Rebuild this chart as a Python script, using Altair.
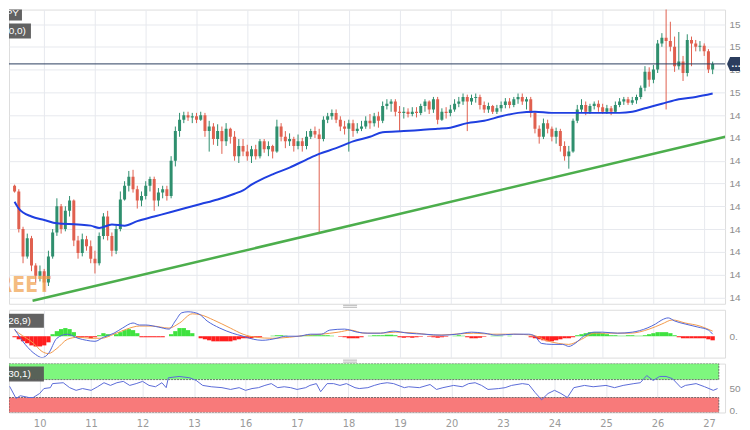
import altair as alt
import pandas as pd

# ---------------- axis labels ----------------
day_labels = ["10", "11", "12", "13", "16", "17", "18", "19", "20", "23", "24", "25", "26", "27"]
day_hours = [24, 48, 72, 96, 120, 144, 168, 192, 216, 240, 264, 288, 312, 336]
price_ticks = [148.2, 148.4, 148.6, 148.8, 149.0, 149.2, 149.4, 149.6, 149.8, 150.0, 150.2, 150.4, 150.6]

# ---------------- 2-hour candles (trading hours from Oct 9 00:00) ----------------
candle_hours = list(range(10, 341, 2))
opens = [
    149.18, 149.13, 148.80, 148.56, 148.72, 148.48, 148.39,
    148.43, 148.33, 148.56, 148.77, 149.00, 148.80, 148.96, 149.05, 148.70, 148.59, 148.71, 148.65,
    148.54, 148.50, 148.74, 148.91, 148.74, 148.61, 148.80, 149.06, 149.18, 149.26, 149.15, 149.05,
    149.09, 149.18, 149.24, 149.05, 149.12, 149.15, 149.09, 149.40, 149.66, 149.76, 149.80, 149.78,
    149.79, 149.76, 149.80, 149.66, 149.70, 149.59, 149.66, 149.57, 149.68, 149.61, 149.44, 149.53,
    149.48, 149.44, 149.50, 149.44, 149.57, 149.50, 149.53, 149.48, 149.70, 149.61, 149.57, 149.59,
    149.53, 149.57, 149.53, 149.61, 149.66, 149.63, 149.59, 149.76, 149.79, 149.82, 149.76, 149.70,
    149.68, 149.73, 149.66, 149.68, 149.70, 149.75, 149.73, 149.79, 149.75, 149.88, 149.90, 149.92,
    149.83, 149.82, 149.83, 149.81, 149.83, 149.82, 149.88, 149.92, 149.85, 149.94, 149.76, 149.83,
    149.82, 149.85, 149.90, 149.92, 149.96, 149.92, 149.95, 149.96, 149.89, 149.85, 149.88, 149.83,
    149.86, 149.89, 149.92, 149.89, 149.94, 149.96, 149.92, 149.94, 149.82, 149.68, 149.61, 149.73,
    149.68, 149.61, 149.66, 149.53, 149.44, 149.48, 149.75, 149.85, 149.89, 149.83, 149.88, 149.90,
    149.87, 149.83, 149.86, 149.83, 149.89, 149.92, 149.94, 149.91, 149.93, 149.96, 150.04, 150.18,
    150.11, 150.20, 150.43, 150.48, 150.45, 150.40, 150.23, 150.27, 150.17, 150.46, 150.43, 150.40,
    150.41, 150.36, 150.20,
]
highs = [
    149.19, 149.15, 148.82, 148.76, 148.74, 148.50, 148.48,
    148.45, 148.61, 148.80, 149.07, 149.02, 149.00, 149.09, 149.06, 148.74, 148.76, 148.74, 148.70,
    148.61, 148.77, 148.94, 148.96, 148.77, 148.83, 149.13, 149.22, 149.31, 149.32, 149.18, 149.13,
    149.22, 149.26, 149.26, 149.16, 149.18, 149.18, 149.44, 149.70, 149.82, 149.83, 149.83, 149.82,
    149.82, 149.83, 149.82, 149.75, 149.73, 149.72, 149.70, 149.73, 149.69, 149.66, 149.59, 149.59,
    149.54, 149.53, 149.54, 149.59, 149.59, 149.57, 149.54, 149.76, 149.73, 149.66, 149.64, 149.61,
    149.63, 149.60, 149.66, 149.68, 149.70, 149.68, 149.79, 149.82, 149.85, 149.85, 149.79, 149.75,
    149.76, 149.76, 149.73, 149.75, 149.79, 149.81, 149.82, 149.83, 149.92, 149.94, 149.94, 149.94,
    149.88, 149.87, 149.86, 149.87, 149.87, 149.90, 149.94, 149.93, 149.96, 149.96, 149.86, 149.87,
    149.89, 149.94, 149.96, 149.99, 149.98, 149.98, 149.99, 149.98, 149.92, 149.91, 149.89, 149.89,
    149.92, 149.95, 149.95, 149.96, 149.99, 149.99, 149.96, 149.96, 149.83, 149.71, 149.77, 149.76,
    149.70, 149.69, 149.68, 149.57, 149.53, 149.77, 149.89, 149.94, 149.92, 149.90, 149.92, 149.93,
    149.90, 149.89, 149.88, 149.92, 149.95, 149.96, 149.96, 149.96, 149.98, 150.06, 150.23, 150.22,
    150.24, 150.46, 150.52, 150.78, 150.62, 150.49, 150.53, 150.32, 150.51, 150.49, 150.46, 150.45,
    150.43, 150.38, 150.27,
]
lows = [
    149.12, 148.77, 148.50, 148.54, 148.43, 148.33, 148.34,
    148.26, 148.30, 148.54, 148.74, 148.76, 148.78, 148.91, 148.65, 148.54, 148.56, 148.61, 148.50,
    148.41, 148.48, 148.71, 148.70, 148.56, 148.58, 148.78, 149.05, 149.13, 149.12, 148.98, 149.00,
    149.06, 149.13, 148.96, 149.00, 149.07, 149.05, 149.07, 149.35, 149.61, 149.73, 149.75, 149.73,
    149.73, 149.75, 149.61, 149.48, 149.54, 149.53, 149.46, 149.53, 149.55, 149.40, 149.38, 149.44,
    149.40, 149.38, 149.41, 149.42, 149.47, 149.44, 149.42, 149.47, 149.57, 149.51, 149.53, 149.48,
    149.50, 149.48, 149.50, 149.59, 149.60, 148.77, 149.57, 149.73, 149.76, 149.73, 149.66, 149.63,
    149.48, 149.61, 149.64, 149.66, 149.68, 149.68, 149.70, 149.69, 149.73, 149.85, 149.83, 149.79,
    149.66, 149.77, 149.78, 149.79, 149.78, 149.80, 149.83, 149.81, 149.82, 149.72, 149.75, 149.77,
    149.79, 149.83, 149.87, 149.89, 149.66, 149.89, 149.91, 149.85, 149.82, 149.82, 149.81, 149.81,
    149.83, 149.86, 149.86, 149.87, 149.90, 149.89, 149.85, 149.78, 149.64, 149.55, 149.59, 149.64,
    149.57, 149.55, 149.48, 149.40, 149.33, 149.47, 149.73, 149.82, 149.80, 149.81, 149.85, 149.83,
    149.81, 149.81, 149.80, 149.82, 149.87, 149.89, 149.89, 149.89, 149.90, 149.94, 150.01, 150.05,
    150.08, 150.17, 150.40, 149.85, 150.36, 150.18, 150.20, 150.10, 150.14, 150.23, 150.36, 150.36,
    150.32, 150.17, 150.16,
]
closes = [
    149.13, 148.80, 148.56, 148.72, 148.48, 148.39, 148.43,
    148.33, 148.56, 148.77, 149.00, 148.80, 148.96, 149.05, 148.70, 148.59, 148.71, 148.65, 148.54,
    148.50, 148.74, 148.91, 148.74, 148.61, 148.80, 149.06, 149.18, 149.26, 149.15, 149.05, 149.09,
    149.18, 149.24, 149.05, 149.12, 149.15, 149.09, 149.40, 149.66, 149.76, 149.80, 149.78, 149.79,
    149.76, 149.80, 149.66, 149.70, 149.59, 149.66, 149.57, 149.68, 149.61, 149.44, 149.53, 149.48,
    149.44, 149.50, 149.44, 149.57, 149.50, 149.53, 149.48, 149.70, 149.61, 149.57, 149.59, 149.53,
    149.57, 149.53, 149.61, 149.66, 149.63, 149.59, 149.76, 149.79, 149.82, 149.76, 149.70, 149.68,
    149.73, 149.66, 149.68, 149.70, 149.75, 149.73, 149.79, 149.75, 149.88, 149.90, 149.92, 149.83,
    149.82, 149.83, 149.81, 149.83, 149.82, 149.88, 149.92, 149.85, 149.94, 149.76, 149.83, 149.82,
    149.85, 149.90, 149.92, 149.96, 149.92, 149.95, 149.96, 149.89, 149.85, 149.88, 149.83, 149.86,
    149.89, 149.92, 149.89, 149.94, 149.96, 149.92, 149.94, 149.82, 149.68, 149.61, 149.73, 149.68,
    149.61, 149.66, 149.53, 149.44, 149.48, 149.75, 149.85, 149.89, 149.83, 149.88, 149.90, 149.87,
    149.83, 149.86, 149.83, 149.89, 149.92, 149.94, 149.91, 149.93, 149.96, 150.04, 150.18, 150.11,
    150.20, 150.43, 150.48, 150.45, 150.40, 150.23, 150.27, 150.17, 150.46, 150.43, 150.40, 150.41,
    150.36, 150.20, 150.25,
]
current_price = 150.25

# 100-period moving average
ma_t = [10, 12, 18, 24, 30, 40, 46, 50, 56, 62, 68, 76, 84, 90, 98, 106, 114, 118, 122, 126, 132, 140, 148, 154,
        162, 170, 178, 184, 194, 202, 210, 216, 224, 232, 240, 248, 256, 264, 272, 280, 288, 296, 302, 308, 312,
        316, 324, 332, 340]
ma_v = [149.04, 148.98, 148.91, 148.88, 148.85, 148.84, 148.83, 148.81, 148.84, 148.83, 148.87, 148.91, 148.95,
        148.98, 149.02, 149.06, 149.11, 149.14, 149.19, 149.23, 149.28, 149.34, 149.41, 149.46, 149.51, 149.57,
        149.61, 149.65, 149.66, 149.67, 149.68, 149.69, 149.73, 149.75, 149.79, 149.82, 149.83, 149.82, 149.82,
        149.82, 149.82, 149.82, 149.83, 149.86, 149.88, 149.90, 149.94, 149.96, 149.99]

# ascending trend line
trend_t = [18.5, 346.0]
trend_v = [148.17, 149.61]

# ---------------- MACD(12,26,9) ----------------
macd_t = [10, 15, 20, 23, 26, 30, 35, 40, 44, 48, 52, 57, 61, 66, 69, 72, 78, 83, 86, 89, 92, 97, 101, 107, 113,
          118, 123, 127, 134, 138, 144, 150, 155, 159, 166, 172, 177, 183, 189, 196, 204, 212, 219, 226, 232, 238,
          246, 253, 256, 259, 264, 269, 272, 275, 279, 284, 288, 295, 302, 309, 313, 316, 319, 322, 327, 333, 338, 340]
macd_v = [0.07, -0.08, -0.18, -0.21, -0.17, -0.02, 0.02, -0.02, -0.04, -0.05, -0.01, 0.03, 0.08, 0.13, 0.11, 0.11,
          0.09, 0.07, 0.15, 0.23, 0.24, 0.22, 0.15, 0.08, 0.03, 0.0, -0.03, -0.04, -0.02, 0.0, 0.0, 0.02, 0.02, 0.06,
          0.07, 0.04, 0.03, 0.03, 0.05, 0.03, 0.02, 0.01, 0.02, 0.04, 0.03, 0.01, 0.02, 0.02, 0.0, -0.07, -0.08,
          -0.08, -0.10, -0.07, 0.0, 0.04, 0.04, 0.03, 0.04, 0.08, 0.12, 0.16, 0.18, 0.15, 0.12, 0.09, 0.06, 0.02]
sig_t = [10, 12, 19, 23, 26, 30, 35, 40, 46, 51, 57, 63, 69, 75, 83, 88, 94, 98, 104, 112, 118, 124, 132, 140, 148,
         155, 163, 169, 175, 183, 190, 200, 209, 218, 227, 236, 246, 255, 261, 267, 272, 278, 284, 292, 301, 310,
         316, 321, 327, 334, 340]
sig_v = [0.06, 0.03, -0.07, -0.15, -0.17, -0.12, -0.03, -0.01, -0.02, -0.02, 0.02, 0.07, 0.10, 0.10, 0.08, 0.13,
         0.22, 0.21, 0.16, 0.08, 0.02, -0.01, -0.02, -0.01, 0.01, 0.02, 0.04, 0.06, 0.03, 0.03, 0.04, 0.03, 0.01,
         0.02, 0.03, 0.02, 0.02, 0.01, -0.04, -0.07, -0.08, -0.03, 0.03, 0.03, 0.03, 0.07, 0.12, 0.16, 0.13, 0.10, 0.05]
hist_v = [
    -0.01, -0.03, -0.05, -0.07, -0.09, -0.10, -0.10,
    -0.09, -0.06, 0.02, 0.05, 0.07, 0.08, 0.07, 0.04, -0.01, -0.01, -0.01, -0.02,
    -0.01, 0.01, 0.03, 0.02, 0.0, 0.02, 0.04, 0.06, 0.07, 0.06, 0.03, -0.01,
    -0.01, -0.01, -0.01, -0.01, -0.01, 0.0, 0.02, 0.05, 0.08, 0.08, 0.06, 0.03,
    0.0, -0.02, -0.03, -0.04, -0.05, -0.05, -0.05, -0.05, -0.05, -0.04, -0.03, -0.02,
    -0.02, -0.02, -0.01, -0.01, 0.0, 0.0, 0.005, 0.01, 0.01, 0.005, 0.0, 0.0,
    0.0, 0.005, 0.01, 0.01, 0.01, 0.01, 0.01, 0.01, 0.005, 0.0, -0.005, -0.01,
    -0.02, -0.02, -0.02, -0.01, 0.0, 0.005, 0.01, 0.01, 0.01, 0.015, 0.015, 0.01,
    -0.01, -0.015, -0.01, -0.015, -0.01, -0.005, 0.0, -0.005, -0.01, -0.015, -0.01, -0.005,
    0.0, 0.005, 0.01, 0.005, -0.01, -0.02, -0.02, -0.015, -0.005, 0.0, 0.005, 0.005,
    0.005, 0.0, 0.005, 0.0, 0.0, 0.0, 0.0, -0.01, -0.02, -0.03, -0.04, -0.05,
    -0.05, -0.04, -0.03, -0.02, -0.02, -0.01, 0.01, 0.02, 0.03, 0.04, 0.04, 0.04,
    0.03, 0.02, 0.01, 0.01, 0.005, 0.005, 0.01, 0.01, 0.005, 0.005, 0.01, 0.02,
    0.03, 0.04, 0.04, 0.04, 0.03, 0.01, -0.01, -0.02, -0.02, -0.02, -0.02, -0.02,
    -0.02, -0.03, -0.04,
]

# ---------------- RSI(14,70,30,1) ----------------
rsi_t = [10, 13, 15, 19, 21, 24, 26, 29, 30, 35, 38, 41, 44, 48, 51, 54, 57, 60, 63, 66, 69, 72, 75, 78, 81, 83, 84,
         89, 94, 97, 100, 104, 109, 113, 117, 120, 123, 126, 129, 132, 135, 138, 141, 144, 148, 150, 153, 155, 158,
         161, 164, 167, 171, 173, 177, 180, 183, 186, 189, 194, 196, 201, 206, 209, 212, 217, 221, 224, 227, 230,
         233, 238, 241, 244, 249, 252, 255, 258, 261, 264, 267, 270, 273, 278, 282, 288, 292, 296, 301, 304, 307,
         310, 313, 316, 319, 323, 325, 330, 334, 338, 340]
rsi_v = [55, 28, 34, 30, 30, 39, 50, 52, 61, 63, 52, 46, 50, 46, 54, 63, 57, 63, 66, 57, 61, 66, 57, 54, 63, 52, 74,
         77, 74, 68, 57, 54, 52, 48, 52, 46, 50, 52, 57, 61, 52, 54, 52, 48, 52, 57, 61, 43, 61, 61, 57, 61, 52, 50,
         52, 57, 61, 63, 61, 52, 54, 52, 59, 48, 52, 57, 54, 61, 63, 57, 48, 50, 52, 57, 61, 59, 41, 25, 39, 46, 39,
         30, 52, 57, 54, 57, 52, 57, 61, 63, 79, 68, 77, 77, 72, 52, 57, 61, 54, 46, 50]
rsi_levels = [70, 30]
rsi_band_end = 340.6

# ---------------- styles ----------------
UP = "#2f8f6e"
DOWN = "#e0604f"
NAVY = "#2b3d5e"
GRID = "#e7e9ee"
PANEL_BG = "#f7f8fa"
LABEL = "#8d8d8d"
BOX = "#555555"
W = 718
X_DOMAIN = [9.72, 343.5]
NARROW = "Liberation Sans Narrow, DejaVu Sans Condensed, sans-serif"
label_expr = "[" + ",".join("'%s'" % d for d in day_labels) + "][round(datum.value/24)-1]"
cut_expr = "substring(format(datum.value, '.2f'), 0, 2)"


def xenc(field="t", show_labels=False):
    return alt.X(
        f"{field}:Q",
        scale=alt.Scale(domain=X_DOMAIN, nice=False, zero=False),
        axis=alt.Axis(values=day_hours, grid=True, gridColor=GRID, labels=show_labels, ticks=False,
                      domain=False, title=None, labelExpr=label_expr, labelColor="#9a9a9a",
                      labelFontSize=11, labelFont=NARROW, labelPadding=5),
    )


def yaxis(values, grid):
    return alt.Axis(values=values, orient="right", grid=grid, gridColor=GRID, ticks=False, domain=False,
                    labelColor=LABEL, labelFontSize=10, labelPadding=4, labelExpr=cut_expr, title=None)


one = pd.DataFrame({"k": [0]})


def label_box(text, x_right, y_top, y_bottom, text_right):
    box = alt.Chart(one).mark_rect(clip=True, color=BOX, opacity=0.92).encode(
        x=alt.value(-60), x2=alt.value(x_right), y=alt.value(y_top), y2=alt.value(y_bottom))
    txt = alt.Chart(one).mark_text(clip=True, align="right", baseline="middle", color="white",
                                   fontSize=10, font="Liberation Sans").encode(
        x=alt.value(text_right), y=alt.value((y_top + y_bottom) / 2), text=alt.value(text))
    return [box, txt]


# ---------------- main panel ----------------
candles = pd.DataFrame({"t": candle_hours, "open": opens, "high": highs, "low": lows, "close": closes})
up_c = candles[candles["close"] >= candles["open"]]
dn_c = candles[candles["close"] < candles["open"]]
ymain = alt.Scale(domain=[148.144, 150.727], nice=False, zero=False)
yax = yaxis(price_ticks, True)


def ym(field):
    return alt.Y(f"{field}:Q", scale=ymain, axis=yax)


layers_main = []
for df, colr in [(up_c, UP), (dn_c, DOWN)]:
    layers_main.append(alt.Chart(df).mark_rule(clip=True, strokeWidth=1, color=colr).encode(
        x=xenc(), y=ym("low"), y2="high:Q"))
    layers_main.append(alt.Chart(df).mark_bar(clip=True, size=3, color=colr).encode(
        x=xenc(), y=ym("open"), y2="close:Q"))

ma = alt.Chart(pd.DataFrame({"t": ma_t, "v": ma_v})).mark_line(
    clip=True, color="#1f3fe0", strokeWidth=2, interpolate="monotone").encode(x=xenc(), y=ym("v"))
trend = alt.Chart(pd.DataFrame({"t": trend_t, "v": trend_v})).mark_line(
    clip=True, color="#4cae4c", strokeWidth=2.5).encode(x=xenc(), y=ym("v"))
cur = pd.DataFrame({"price": [current_price], "label": ["%.2f" % current_price]})
price_line = alt.Chart(cur).mark_rule(color=NAVY, strokeWidth=1).encode(y=ym("price"))
tag = alt.Chart(cur).mark_point(
    shape="M-0.5,0L-0.2,-0.7L0.8,-0.7L0.8,0.7L-0.2,0.7Z", size=400, filled=True, color=NAVY,
    opacity=1).encode(x=alt.value(W + 7), y=ym("price"))
tag_text = alt.Chart(cur).mark_text(align="left", baseline="middle", color="white", fontSize=10,
                                    fontWeight="bold", limit=9, ellipsis="").encode(
    x=alt.value(W + 6), y=ym("price"), text="label:N")
watermark = alt.Chart(one).mark_text(
    clip=True, align="right", baseline="alphabetic", fontSize=21, fontWeight="bold",
    font=NARROW, color="#efa04c", opacity=0.7).encode(
    x=alt.value(42), y=alt.value(283), text=alt.value("FXSTREET"))

main = alt.layer(
    *layers_main, ma, trend, price_line, tag, tag_text, watermark,
    *label_box("USDJPY", 13, -5, 11, 10),
    *label_box("SMA(100,0)", 22, 14, 29, 17),
).properties(width=W, height=295)

# ---------------- MACD panel ----------------
ymacd = alt.Scale(domain=[-0.21, 0.26], nice=False, zero=False)
yax_macd = yaxis([0], False)
hist = pd.DataFrame({"t": candle_hours, "h": hist_v})
layers_macd = []
for df, colr in [(hist[hist["h"] >= 0], "#3fe23f"), (hist[hist["h"] < 0], "#ff1e1e")]:
    layers_macd.append(alt.Chart(df).mark_bar(size=4.3, color=colr).encode(
        x=xenc(), y=alt.Y("h:Q", scale=ymacd, axis=yax_macd), y2=alt.datum(0)))
sig_line = alt.Chart(pd.DataFrame({"t": sig_t, "v": sig_v})).mark_line(
    color="#f29a4a", strokeWidth=1, interpolate="monotone", clip=True).encode(
    x=xenc(), y=alt.Y("v:Q", scale=ymacd, axis=yax_macd))
macd_line = alt.Chart(pd.DataFrame({"t": macd_t, "v": macd_v})).mark_line(
    color="#5066d8", strokeWidth=1, interpolate="monotone", clip=True).encode(
    x=xenc(), y=alt.Y("v:Q", scale=ymacd, axis=yax_macd))
handle1a = alt.Chart(one).mark_rect(color="#b3b3b3").encode(
    x=alt.value(335), x2=alt.value(349), y=alt.value(-5), y2=alt.value(-4))
handle1b = alt.Chart(one).mark_rect(color="#b3b3b3").encode(
    x=alt.value(335), x2=alt.value(349), y=alt.value(-3), y2=alt.value(-2))
macd = alt.layer(
    *layers_macd, sig_line, macd_line, handle1a, handle1b,
    *label_box("MACD(12,26,9)", 35, 4, 18, 22),
).properties(width=W, height=48)

# ---------------- RSI panel ----------------
yrsi = alt.Scale(domain=[-3.3, 105.6], nice=False, zero=False)
yax_rsi = yaxis([0, 50], False)
ob = pd.DataFrame({"x1": [X_DOMAIN[0]], "x2": [rsi_band_end], "lo": [rsi_levels[0]], "hi": [105.6]})
os_ = pd.DataFrame({"x1": [X_DOMAIN[0]], "x2": [rsi_band_end], "lo": [-3.3], "hi": [rsi_levels[1]]})
band_layers = []
for df, colr in [(ob, "#7ef77e"), (os_, "#f87a7a")]:
    band_layers.append(alt.Chart(df).mark_rect(color=colr, stroke="#555555", strokeWidth=0.8,
                                               strokeDash=[2, 1], clip=True).encode(
        x=xenc("x1", True), x2="x2:Q", y=alt.Y("lo:Q", scale=yrsi, axis=yax_rsi), y2="hi:Q"))
rsi_line = alt.Chart(pd.DataFrame({"t": rsi_t, "v": rsi_v})).mark_line(
    color="#5b6bd8", strokeWidth=1, clip=True).encode(
    x=xenc(show_labels=True), y=alt.Y("v:Q", scale=yrsi, axis=yax_rsi))
handle2a = alt.Chart(one).mark_rect(color="#b3b3b3").encode(
    x=alt.value(335), x2=alt.value(349), y=alt.value(-4), y2=alt.value(-3))
handle2b = alt.Chart(one).mark_rect(color="#b3b3b3").encode(
    x=alt.value(335), x2=alt.value(349), y=alt.value(-2), y2=alt.value(-1))
rsi = alt.layer(
    *band_layers, rsi_line, handle2a, handle2b,
    *label_box("RSI(14,70,30,1)", 35, 3, 18, 22),
).properties(width=W, height=49)

chart = alt.vconcat(main, macd, rsi, spacing=6, bounds="flush", padding=0).configure_view(
    fill=PANEL_BG, stroke="#d6dae1", strokeWidth=1
).configure(font="Liberation Sans")

chart.save("out.html", embed_options={"renderer": "svg", "actions": False})
